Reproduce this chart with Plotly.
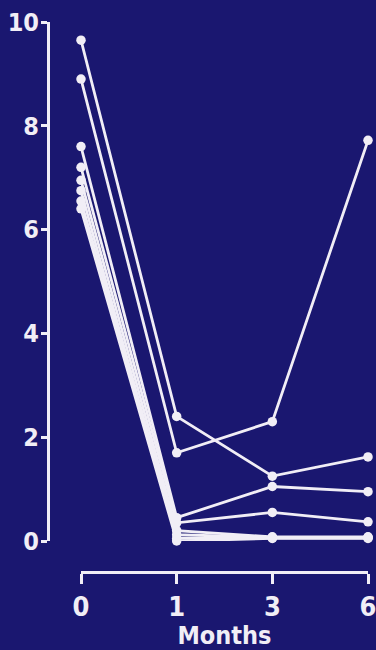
import plotly.graph_objects as go

# Follow-up visits (months) and per-patient measurements
months = ["0", "1", "3", "6"]
patient_1 = [9.65, 2.40, 1.25, 1.62]
patient_2 = [8.90, 1.70, 2.30, 7.72]
patient_3 = [7.60, 0.45, 1.05, 0.95]
patient_4 = [7.20, 0.35, 0.55, 0.37]
patient_5 = [6.95, 0.20, 0.08, 0.08]
patient_6 = [6.75, 0.05, 0.06, 0.06]
patient_7 = [6.55, 0.12, 0.07, 0.07]
patient_8 = [6.40, 0.00, 0.05, 0.05]

patients = [patient_1, patient_2, patient_3, patient_4,
            patient_5, patient_6, patient_7, patient_8]

y_ticks = [0, 2, 4, 6, 8, 10]

BG = "#1a1770"
INK = "#f1eef6"
FONT = "Liberation Sans Narrow, DejaVu Sans Condensed, Arial Narrow, sans-serif"

fig = go.Figure()
for values in patients:
    fig.add_trace(go.Scatter(
        x=months, y=values, mode="lines+markers",
        line=dict(color=INK, width=2.8),
        marker=dict(color=INK, size=9.5, line=dict(width=0)),
        cliponaxis=False, showlegend=False, hoverinfo="skip",
    ))

W, H = 376, 650
L, R, T, B = 48, 8, 22, 78
plot_w = W - L - R
plot_h = H - T - B

fig.update_layout(
    width=W, height=H,
    margin=dict(l=L, r=R, t=T, b=B, pad=0),
    paper_bgcolor=BG, plot_bgcolor=BG,
    font=dict(family=FONT, color=INK, size=25, weight="bold"),
    xaxis=dict(
        type="category", categoryarray=months, range=[0, 3],
        domain=[(81 - L) / plot_w, 1],
        anchor="free", position=0, automargin=False,
        showline=True, linecolor=INK, linewidth=3,
        ticks="outside", ticklen=10, tickwidth=2.5, tickcolor=INK,
        tickfont=dict(family=FONT, size=27, color=INK, weight="bold"),
        showgrid=False, zeroline=False,
        title=dict(text="Months", standoff=0,
                   font=dict(family=FONT, size=25, color=INK, weight="bold")),
    ),
    yaxis=dict(
        range=[0, 10], tickvals=y_ticks,
        domain=[(572 - 541) / plot_h, 1],
        anchor="free", position=0, automargin=False,
        showline=True, linecolor=INK, linewidth=3,
        ticks="outside", ticklen=6, tickwidth=2.5, tickcolor=INK,
        ticklabelstandoff=-3,
        tickfont=dict(family=FONT, size=25, color=INK, weight="bold"),
        showgrid=False, zeroline=False,
    ),
)

fig.write_html("out.html")
